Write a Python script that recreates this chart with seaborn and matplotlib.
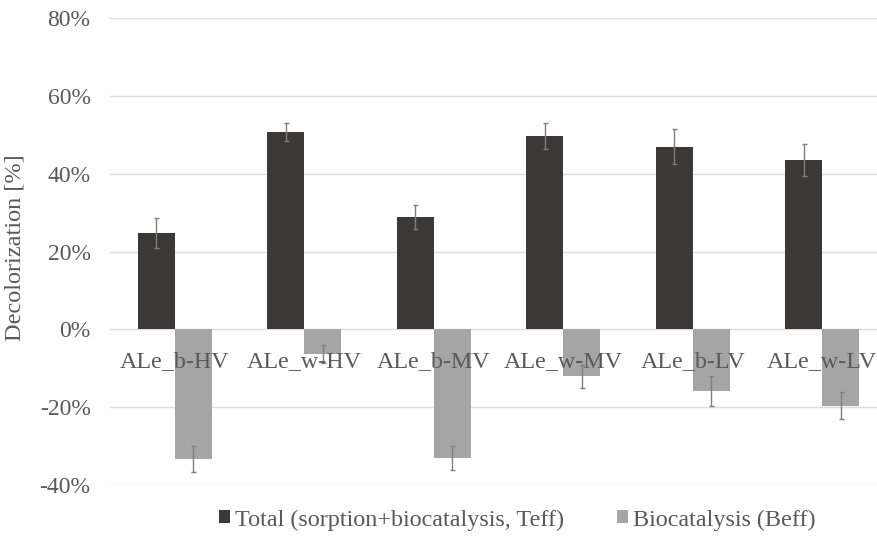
import matplotlib
matplotlib.use("Agg")
import matplotlib.pyplot as plt
import seaborn as sns
import pandas as pd
from matplotlib.ticker import FuncFormatter
from matplotlib.patches import Patch

categories = ["ALe_b-HV", "ALe_w-HV", "ALe_b-MV", "ALe_w-MV", "ALe_b-LV", "ALe_w-LV"]
series_names = ["Total (sorption+biocatalysis, Teff)", "Biocatalysis (Beff)"]
teff = [24.7, 50.7, 28.8, 49.7, 46.9, 43.4]
teff_err = [3.8, 2.2, 3.1, 3.4, 4.5, 4.1]
beff = [-33.3, -6.3, -33.0, -12.1, -15.9, -19.6]
beff_err = [3.4, 2.4, 3.1, 2.9, 3.9, 3.4]
yticks = [-40, -20, 0, 20, 40, 60, 80]

colors = ["#3c3838", "#a5a5a5"]
text_color = "#595959"

df = pd.DataFrame({
    "cat": categories * 2,
    "series": [series_names[0]] * 6 + [series_names[1]] * 6,
    "val": teff + beff,
})

sns.set_theme(style="white")
plt.rcParams["font.family"] = ["Liberation Serif", "DejaVu Serif"]

fig = plt.figure(figsize=(8.77, 5.38), dpi=100)
ax = fig.add_axes([110 / 877, 1 - 485 / 538, 777 / 877, (485 - 18) / 538])

sns.barplot(data=df, x="cat", y="val", hue="series", order=categories,
            hue_order=series_names, palette=colors, width=0.57,
            errorbar=None, saturation=1, ax=ax, legend=False,
            edgecolor="none", linewidth=0)

# error bars
for i, (vals, errs) in enumerate([(teff, teff_err), (beff, beff_err)]):
    cont = ax.containers[i]
    xs = [p.get_x() + p.get_width() / 2 for p in cont.patches]
    ax.errorbar(xs, vals, yerr=errs, fmt="none", ecolor="#7f7f7f",
                elinewidth=1.0, capsize=1.8, capthick=1.0, zorder=5)

ax.set_ylim(-40, 80)
ax.set_yticks(yticks)
ax.yaxis.set_major_formatter(FuncFormatter(lambda v, p: f"{int(v)}%"))
ax.set_xlim(-0.5, 5.5)
ax.grid(axis="y", color="#dcdcdc", linewidth=1.0)
ax.grid(axis="x", visible=False)
ax.set_axisbelow(True)
for s in ["top", "right", "left", "bottom"]:
    ax.spines[s].set_visible(False)

ax.tick_params(axis="x", length=0, labelbottom=False)
ax.tick_params(axis="y", length=0, pad=14, labelsize=17, labelcolor=text_color)

# category labels next to the zero line, drawn above the bars
for i, cat in enumerate(categories):
    ax.annotate(cat, xy=(i, 0), xytext=(0, -27.4), textcoords="offset points",
                ha="center", va="baseline", fontsize=17.3, color=text_color,
                zorder=10, annotation_clip=False)

ax.set_xlabel("")
ax.set_ylabel("Decolorization [%]", fontsize=17.5, color=text_color)
ax.yaxis.set_label_coords((25 - 110) / 777, (485 - 248) / 467)

handles = [Patch(facecolor=c, edgecolor="none") for c in colors]
fig.legend(handles, series_names, loc="center", bbox_to_anchor=(517 / 877, 1 - 520 / 538),
           ncol=2, frameon=False, fontsize=17.4, labelcolor=text_color,
           handlelength=0.45, handleheight=0.45, handletextpad=0.2, columnspacing=2.2)

fig.savefig("out.png", dpi=100)
